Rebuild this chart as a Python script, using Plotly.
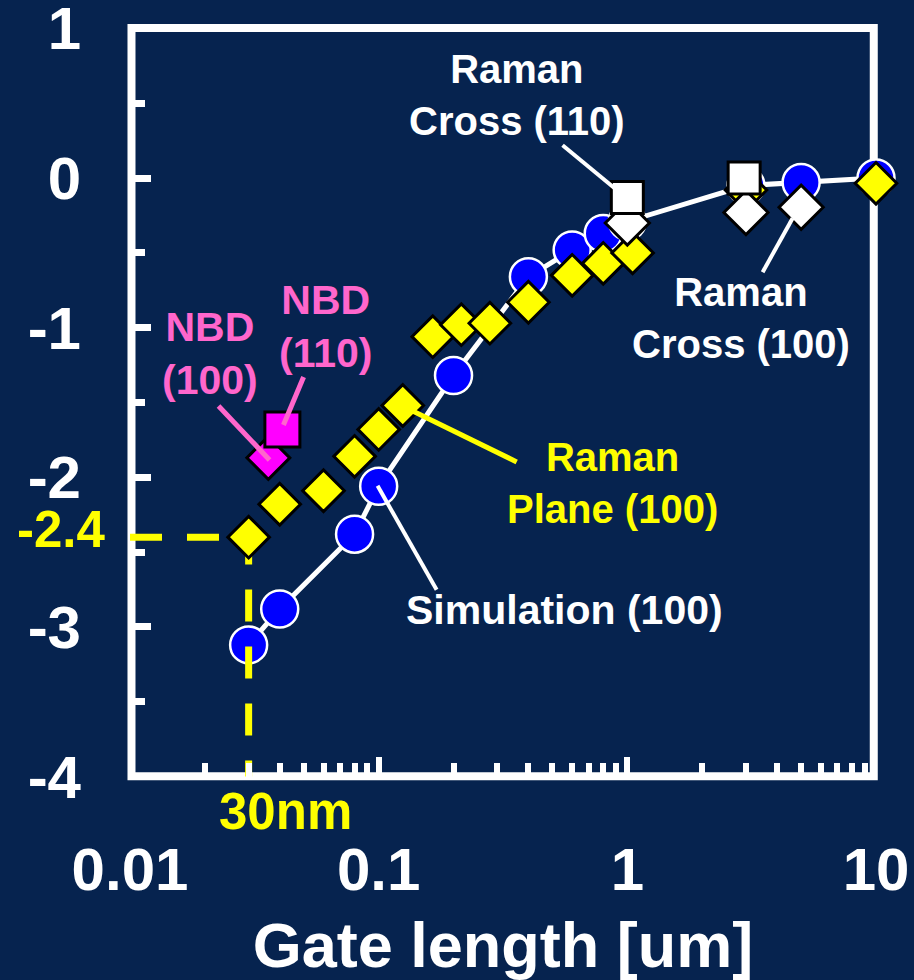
import numpy as np
import plotly.graph_objects as go

# ---------------- data ----------------
sim_x = [0.03, 0.04, 0.08, 0.1, 0.2, 0.4, 0.6, 0.8, 1.0, 3.0, 5.0, 10.0]
sim_y = [-3.12, -2.88, -2.38, -2.06, -1.32, -0.66, -0.48, -0.37, -0.29, -0.05, -0.03, 0.0]

plane_x = [0.03, 0.04, 0.06, 0.08, 0.1, 0.125, 0.165, 0.215, 0.28, 0.4, 0.6, 0.8, 1.05, 3.0, 10.0]
plane_y = [-2.4, -2.18, -2.09, -1.86, -1.68, -1.52, -1.06, -0.98, -0.97, -0.83, -0.65, -0.57, -0.50, -0.08, -0.035]

cross100_x = [1.0, 3.0, 5.0]
cross100_y = [-0.30, -0.23, -0.195]

cross110_x = [1.0, 2.95]
cross110_y = [-0.13, 0.0]

nbd100_x = [0.036]
nbd100_y = [-1.87]
nbd110_x = [0.041]
nbd110_y = [-1.68]

x_tickvals = [0.01, 0.1, 1, 10]
x_ticktext = ["0.01", "0.1", "1", "10"]
y_tickvals = [1, 0, -1, -2, -3, -4]
y_ticktext = ["1", "0", "-1", "-2", "-3", "-4"]
x_range_log = [-2, 1]
y_range = [-4, 1]

# ---------------- style ----------------
BG = "#06234F"
FONT = "Liberation Sans, Arial, sans-serif"
WHITE = "#FFFFFF"
YELLOW = "#FFFF00"
PINK = "#FF66CC"
MAGENTA = "#FF00FF"
BLUE = "#0000FF"

fig = go.Figure()

# simulation line + circles
fig.add_trace(go.Scatter(
    x=sim_x, y=sim_y, mode="lines+markers", cliponaxis=False,
    line=dict(color=WHITE, width=5),
    marker=dict(symbol="circle", size=37, color=BLUE, line=dict(color=WHITE, width=2.5)),
    hoverinfo="skip"))

# yellow guide lines (from first Raman Plane point)
gx = 10 ** x_range_log[0]
fig.add_trace(go.Scatter(
    x=[gx, plane_x[0], plane_x[0]], y=[plane_y[0], plane_y[0], y_range[0]],
    mode="lines", line=dict(color=YELLOW, width=7, dash="32px,25px"),
    hoverinfo="skip"))

# Raman plane (100)
fig.add_trace(go.Scatter(
    x=plane_x, y=plane_y, mode="markers", cliponaxis=False,
    marker=dict(symbol="diamond", size=32, color=YELLOW, line=dict(color="black", width=3)),
    hoverinfo="skip"))

# Raman cross (100)
fig.add_trace(go.Scatter(
    x=cross100_x, y=cross100_y, mode="markers", cliponaxis=False,
    marker=dict(symbol="diamond", size=34, color=WHITE, line=dict(color="black", width=3)),
    hoverinfo="skip"))

# Raman cross (110)
fig.add_trace(go.Scatter(
    x=cross110_x, y=cross110_y, mode="markers", cliponaxis=False,
    marker=dict(symbol="square", size=32, color=WHITE, line=dict(color="black", width=3)),
    hoverinfo="skip"))

# NBD
fig.add_trace(go.Scatter(
    x=nbd100_x, y=nbd100_y, mode="markers",
    marker=dict(symbol="diamond", size=33, color=MAGENTA, line=dict(color="black", width=3)),
    hoverinfo="skip"))
fig.add_trace(go.Scatter(
    x=nbd110_x, y=nbd110_y, mode="markers",
    marker=dict(symbol="square", size=35, color=MAGENTA, line=dict(color="black", width=3)),
    hoverinfo="skip"))

# callout leader lines (data coordinates)
callouts = [
    ([0.549, 0.889], [0.219, -0.068], WHITE, 4),
    ([3.50, 4.62], [-0.629, -0.268], WHITE, 4),
    ([0.0227, 0.0364], [-1.523, -1.884], PINK, 5),
    ([0.0499, 0.0414], [-1.330, -1.650], PINK, 5),
    ([0.137, 0.359], [-1.557, -1.897], YELLOW, 5),
    ([0.099, 0.171], [-2.057, -2.752], WHITE, 4),
]
for cx, cy, col, w in callouts:
    fig.add_trace(go.Scatter(x=cx, y=cy, mode="lines", line=dict(color=col, width=w),
                             hoverinfo="skip"))

# plot frame
fig.add_shape(type="rect", xref="paper", yref="paper", x0=0.002, y0=0.001, x1=0.997, y1=1.0,
              line=dict(color=WHITE, width=8), layer="below")

def px2x(px):
    return (px - 130) / 746.0

def py2y(py):
    return (777 - py) / 749.0

labels = [
    ("Raman<br>Cross (110)", 517, 95, WHITE, 40),
    ("Raman<br>Cross (100)", 741, 318, WHITE, 40),
    ("NBD<br>(100)", 210, 353, PINK, 41),
    ("NBD<br>(110)", 325, 326, PINK, 41),
    ("Raman<br>Plane (100)", 612, 483, YELLOW, 40),
    ("Simulation (100)", 564, 610, WHITE, 41),
    ("30nm", 285, 812, YELLOW, 51),
]
for txt, lx, ly, col, sz in labels:
    fig.add_annotation(text=txt, xref="paper", yref="paper", x=px2x(lx), y=py2y(ly),
                       xanchor="center", yanchor="middle", showarrow=False,
                       font=dict(family=FONT, size=sz, color=col, weight="bold"))
fig.add_annotation(text="-2.4", xref="paper", yref="paper", x=px2x(108), y=py2y(529),
                   xanchor="right", yanchor="middle", showarrow=False,
                   font=dict(family=FONT, size=51, color=YELLOW, weight="bold"))

minor_x = [m * 10.0 ** e for e in (-2, -1, 0) for m in range(2, 10)]
minor_y = [v + 0.5 for v in y_tickvals[1:]]

tickfont = dict(family=FONT, size=60, color=WHITE, weight="bold")

fig.update_xaxes(type="log", range=x_range_log, tickvals=x_tickvals, ticktext=x_ticktext,
                 ticks="inside", ticklen=20, tickwidth=6, tickcolor=WHITE,
                 showgrid=False, zeroline=False, showline=False,
                 tickfont=tickfont, ticklabelstandoff=52, ticklabeloverflow="allow",
                 minor=dict(tickvals=minor_x, ticks="inside", ticklen=14, tickwidth=6,
                            tickcolor=WHITE, showgrid=False),
                 title=dict(text="Gate length [um]", standoff=20,
                            font=dict(family=FONT, size=63, color=WHITE, weight="bold")),
                 automargin=False)
fig.update_yaxes(range=[y_range[0] - 0.003, y_range[1] + 0.003],
                 tickvals=y_tickvals, ticktext=y_ticktext,
                 ticks="inside", ticklen=21, tickwidth=7, tickcolor=WHITE,
                 showgrid=False, zeroline=False, showline=False,
                 tickfont=tickfont, ticklabelstandoff=48, ticklabeloverflow="allow",
                 minor=dict(tickvals=minor_y, ticks="inside", ticklen=15, tickwidth=7,
                            tickcolor=WHITE, showgrid=False),
                 automargin=False)

fig.update_layout(width=914, height=980, showlegend=False,
                  margin=dict(l=130, r=38, t=28, b=203, autoexpand=False),
                  paper_bgcolor=BG, plot_bgcolor=BG)

fig.write_html("out.html", config={"displayModeBar": False},
               post_script="document.body.style.margin='0px';document.body.style.padding='0px';"
                           "document.documentElement.style.overflow='hidden';")
